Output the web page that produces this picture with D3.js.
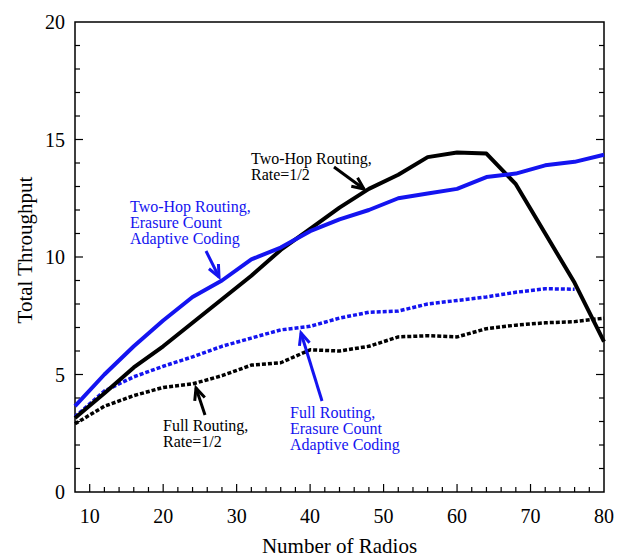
<!DOCTYPE html>
<html>
<head>
<meta charset="utf-8">
<script src="https://cdn.jsdelivr.net/npm/d3@7"></script>
<style>
  body { margin: 0; background: #fff; }
  text { font-family: "Liberation Serif", "DejaVu Serif", serif; }
</style>
</head>
<body>
<div id="chart"></div>
<script>
const radios = [8, 12, 16, 20, 24, 28, 32, 36, 40, 44, 48, 52, 56, 60, 64, 68, 72, 76, 80];
const twoHopRate = [3.15, 4.2, 5.3, 6.2, 7.2, 8.2, 9.2, 10.3, 11.2, 12.1, 12.9, 13.5, 14.25, 14.45, 14.4, 13.1, 11.0, 8.9, 6.4];
const twoHopErasure = [3.65, 5.0, 6.2, 7.3, 8.3, 9.0, 9.9, 10.4, 11.1, 11.6, 12.0, 12.5, 12.7, 12.9, 13.4, 13.55, 13.9, 14.05, 14.35];
const fullErasure = [3.2, 4.3, 4.9, 5.35, 5.75, 6.2, 6.55, 6.9, 7.05, 7.4, 7.65, 7.7, 8.0, 8.15, 8.3, 8.5, 8.65, 8.63];
const fullRate = [2.9, 3.65, 4.1, 4.45, 4.6, 4.95, 5.4, 5.5, 6.05, 6.0, 6.2, 6.6, 6.65, 6.6, 6.95, 7.1, 7.2, 7.25, 7.4];
const xTicks = [10, 20, 30, 40, 50, 60, 70, 80];
const yTicks = [0, 5, 10, 15, 20];

const blue = "#1414f0";
const width = 622, height = 558;
const margin = { top: 22, right: 18, bottom: 66, left: 75 };
const w = width - margin.left - margin.right;
const h = height - margin.top - margin.bottom;

const svg = d3.select("#chart").append("svg")
    .attr("width", width)
    .attr("height", height);

const g = svg.append("g")
    .attr("transform", `translate(${margin.left},${margin.top})`);

const x = d3.scaleLinear().domain([8, 80]).range([0, w]);
const y = d3.scaleLinear().domain([0, 20]).range([h, 0]);

// frame
g.append("rect")
    .attr("width", w).attr("height", h)
    .attr("fill", "none").attr("stroke", "#000").attr("stroke-width", 1.5);

// x ticks (inside, bottom)
const xMinor = d3.range(10, 80, 2);
g.selectAll(".xt").data(xMinor).enter().append("line")
    .attr("x1", d => x(d)).attr("x2", d => x(d))
    .attr("y1", h).attr("y2", d => h - (d % 10 === 0 ? 8 : 5))
    .attr("stroke", "#000").attr("stroke-width", 1.2);

g.selectAll(".xl").data(xTicks).enter().append("text")
    .attr("x", d => x(d)).attr("y", h + 31)
    .attr("text-anchor", "middle")
    .style("font-size", "20px")
    .text(d => d);

// y ticks (inside, both sides)
const yMinor = d3.range(1, 20, 1);
[0, w].forEach(side => {
    g.selectAll(null).data(yMinor).enter().append("line")
        .attr("x1", side)
        .attr("x2", d => side + (side === 0 ? 1 : -1) * (d % 5 === 0 ? 8 : 5))
        .attr("y1", d => y(d)).attr("y2", d => y(d))
        .attr("stroke", "#000").attr("stroke-width", 1.2);
});

g.selectAll(".yl").data(yTicks).enter().append("text")
    .attr("x", -10).attr("y", d => y(d) + 7)
    .attr("text-anchor", "end")
    .style("font-size", "20px")
    .text(d => d);

// axis titles
svg.append("text")
    .attr("x", margin.left + w / 2).attr("y", 553)
    .attr("text-anchor", "middle")
    .style("font-size", "21px")
    .text("Number of Radios");

svg.append("text")
    .attr("transform", `translate(32,250) rotate(-90)`)
    .attr("text-anchor", "middle")
    .style("font-size", "21px")
    .text("Total Throughput");

// lines
const line = d3.line().x(d => x(d[0])).y(d => y(d[1]));
const series = [
    { vals: fullRate, color: "#000", dash: "4,2", width: 3.5 },
    { vals: fullErasure, color: blue, dash: "4,2", width: 3.5 },
    { vals: twoHopRate, color: "#000", dash: null, width: 4 },
    { vals: twoHopErasure, color: blue, dash: null, width: 4 }
];
series.forEach(s => {
    g.append("path")
        .datum(s.vals.map((v, i) => [radios[i], v]))
        .attr("d", line)
        .attr("fill", "none")
        .attr("stroke", s.color)
        .attr("stroke-width", s.width)
        .attr("stroke-dasharray", s.dash)
        .attr("stroke-linejoin", "round");
});

// annotations (pixel positions on the page)
function arrow(x1, y1, x2, y2, color) {
    const a = Math.atan2(y2 - y1, x2 - x1);
    const len = 13, spread = 0.42;
    svg.append("line")
        .attr("x1", x1).attr("y1", y1).attr("x2", x2).attr("y2", y2)
        .attr("stroke", color).attr("stroke-width", 3);
    const pts = [
        [x2 - len * Math.cos(a - spread), y2 - len * Math.sin(a - spread)],
        [x2, y2],
        [x2 - len * Math.cos(a + spread), y2 - len * Math.sin(a + spread)]
    ];
    svg.append("polyline")
        .attr("points", pts.map(p => p.join(",")).join(" "))
        .attr("fill", "none").attr("stroke", color).attr("stroke-width", 3);
}

function label(lines, px, py, color) {
    const t = svg.append("text")
        .attr("x", px).attr("y", py)
        .attr("fill", color)
        .style("font-size", "16px");
    lines.forEach((l, i) => {
        t.append("tspan").attr("x", px).attr("dy", i === 0 ? 0 : 16).text(l);
    });
}

label(["Two-Hop Routing,", "Rate=1/2"], 251, 164, "#000");
arrow(334, 167, 364, 189, "#000");

label(["Two-Hop Routing,", "Erasure Count", "Adaptive Coding"], 130, 212, blue);
arrow(206, 251, 219, 277, blue);

label(["Full Routing,", "Rate=1/2"], 163, 431, "#000");
arrow(205, 415, 196, 388, "#000");

label(["Full Routing,", "Erasure Count", "Adaptive Coding"], 290, 418, blue);
arrow(322, 401, 301, 333, blue);
</script>
</body>
</html>
